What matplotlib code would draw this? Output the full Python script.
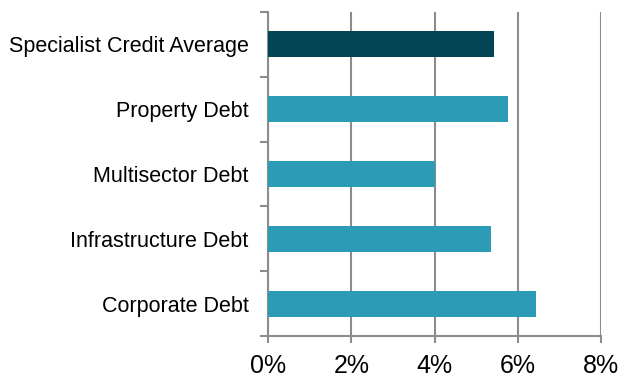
import matplotlib
matplotlib.use("Agg")
import matplotlib.pyplot as plt
from matplotlib.ticker import FuncFormatter

# categories, bottom to top
categories = ["Corporate Debt", "Infrastructure Debt", "Multisector Debt",
              "Property Debt", "Specialist Credit Average"]
values = [6.43, 5.35, 4.0, 5.77, 5.43]
colors = ["#2B9BB6", "#2B9BB6", "#2B9BB6", "#2B9BB6", "#034555"]
x_ticks = [0, 2, 4, 6, 8]

GRID = "#8c8c8c"

plt.rcParams["font.family"] = ["Liberation Sans", "DejaVu Sans"]

fig = plt.figure(figsize=(6.21, 3.78), dpi=100)
ax = fig.add_axes([0.4316, 0.1111, 0.9683 - 0.4316, 0.9683 - 0.1111])

ypos = list(range(len(categories)))
ax.barh(ypos, values, height=0.4, color=colors, zorder=3)

ax.set_xlim(0, 8)
ax.set_ylim(-0.5, len(categories) - 0.5)
ax.set_xticks(x_ticks)
ax.xaxis.set_major_formatter(FuncFormatter(lambda v, p: f"{v:.0f}%"))

# y ticks sit between categories, labels centred on the bars
ax.set_yticks([i - 0.5 for i in range(len(categories) + 1)])
ax.set_yticklabels([])
ax.set_yticks(ypos, minor=True)
ax.set_yticklabels(categories, minor=True)
ax.tick_params(axis="y", which="minor", length=0, pad=14, labelsize=15.5)
ax.tick_params(axis="y", which="major", length=6, width=1.5, color=GRID)
ax.tick_params(axis="x", length=5, width=1.5, color=GRID, labelsize=18, pad=8)

ax.xaxis.grid(True, color=GRID, linewidth=1.5, zorder=0)
ax.set_axisbelow(True)

for s in ["top", "right"]:
    ax.spines[s].set_visible(False)
for s in ["left", "bottom"]:
    ax.spines[s].set_color(GRID)
    ax.spines[s].set_linewidth(1.5)

fig.savefig("out.png", dpi=100)
